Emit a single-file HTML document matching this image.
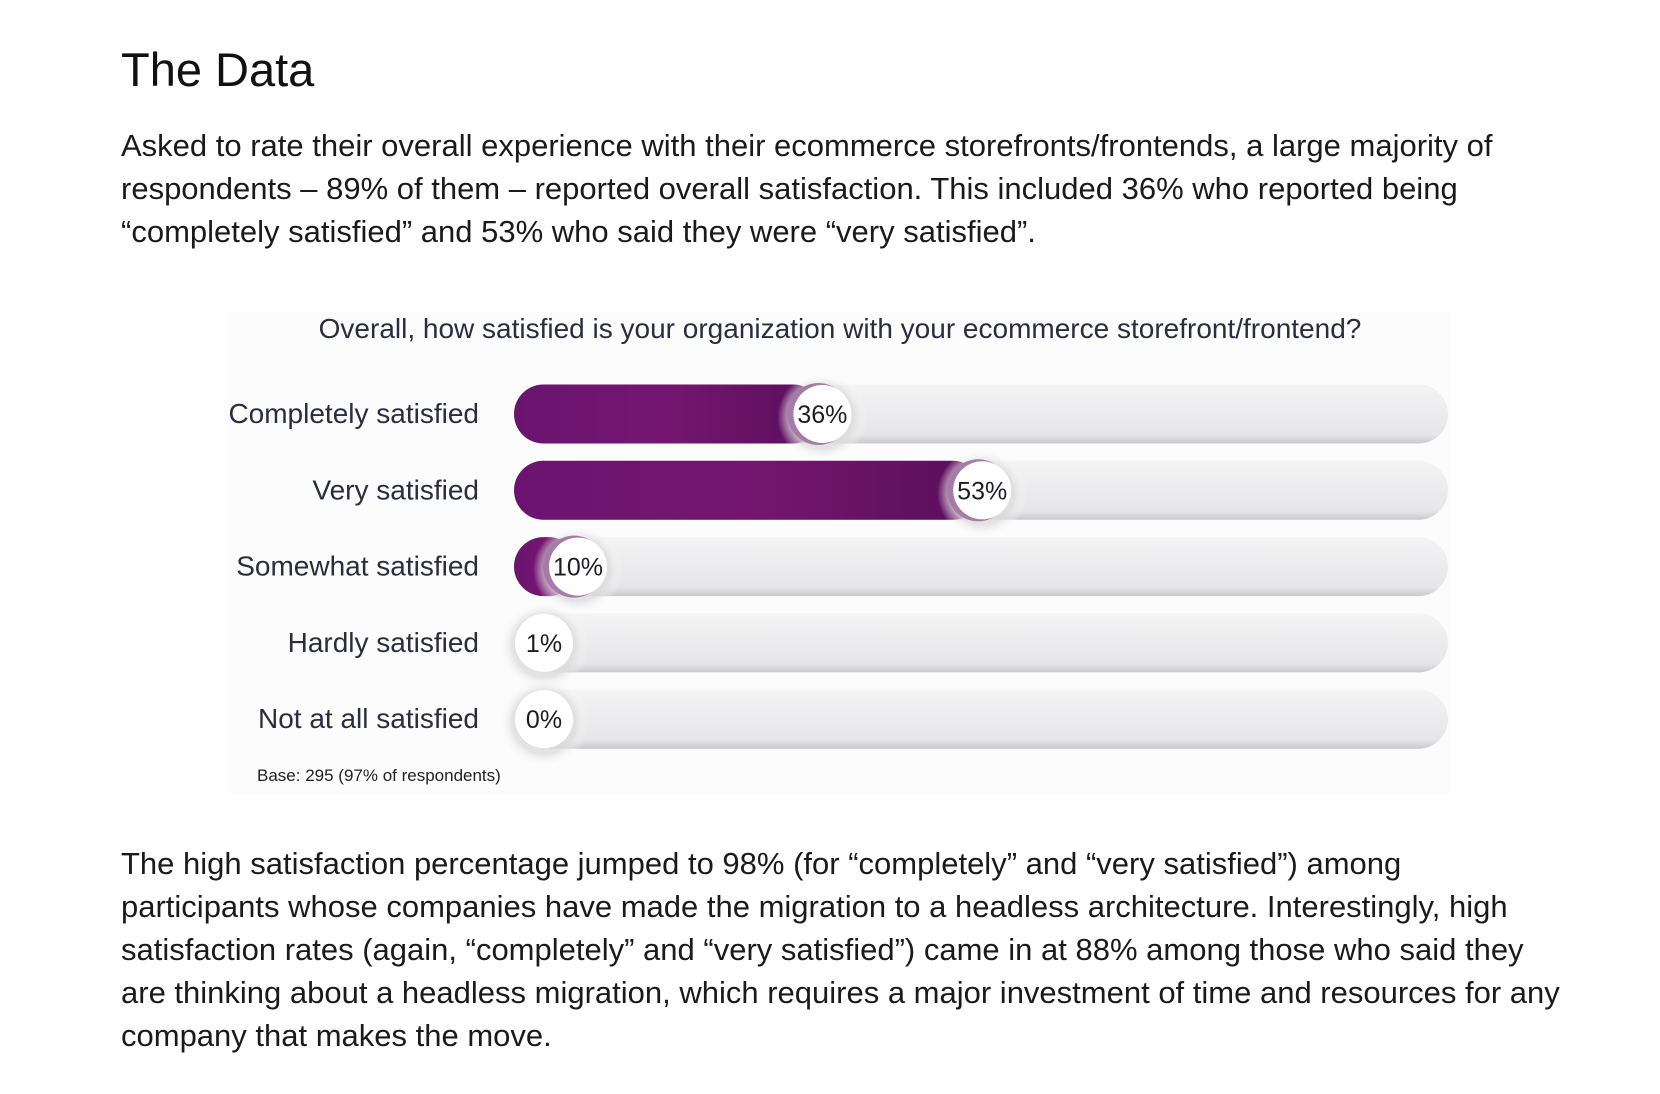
<!DOCTYPE html>
<html><head><meta charset="utf-8">
<style>
body{margin:0;width:1660px;height:1094px;background:#fff;overflow:hidden;font-family:"Liberation Sans",sans-serif;position:relative}
.h{position:absolute;left:121px;top:42px;font-size:47px;color:#111;margin:0;font-weight:normal}
.p{position:absolute;left:121px;width:1530px;font-size:31px;line-height:43px;color:#1a1a1a;margin:0;white-space:nowrap}
</style></head><body>
<h1 class="h">The Data</h1>
<p class="p" style="top:124px">Asked to rate their overall experience with their ecommerce storefronts/frontends, a large majority of<br>respondents – 89% of them – reported overall satisfaction. This included 36% who reported being<br>“completely satisfied” and 53% who said they were “very satisfied”.</p>
<svg style="position:absolute;left:0;top:0" width="1660" height="1094">
<defs>
<linearGradient id="trk" x1="0" y1="0" x2="0" y2="1"><stop offset="0" stop-color="#f4f4f5"/><stop offset="0.85" stop-color="#e6e6e8"/><stop offset="1" stop-color="#c9c9cc"/></linearGradient>
<linearGradient id="pur" x1="0" y1="0" x2="1" y2="0"><stop offset="0" stop-color="#6a1470"/><stop offset="0.5" stop-color="#74166f"/><stop offset="1" stop-color="#5a0f5c"/></linearGradient>
<radialGradient id="halo"><stop offset="0.7" stop-color="#ddd" stop-opacity="0.8"/><stop offset="1" stop-color="#fff" stop-opacity="0"/></radialGradient>
</defs>
<rect x="228" y="312" width="1223" height="482" fill="#fcfcfd"/>
<text x="840" y="338" text-anchor="middle" font-size="28" fill="#2a2d3e">Overall, how satisfied is your organization with your ecommerce storefront/frontend?</text>
<g id="rows"></g>
<text x="257" y="781" font-size="17" fill="#222">Base: 295 (97% of respondents)</text>
</svg>
<p class="p" style="top:842px">The high satisfaction percentage jumped to 98% (for “completely” and “very satisfied”) among<br>participants whose companies have made the migration to a headless architecture. Interestingly, high<br>satisfaction rates (again, “completely” and “very satisfied”) came in at 88% among those who said they<br>are thinking about a headless migration, which requires a major investment of time and resources for any<br>company that makes the move.</p>
<script>
const categories=["Completely satisfied","Very satisfied","Somewhat satisfied","Hardly satisfied","Not at all satisfied"];
const values=[36,53,10,1,0];
const NS="http://www.w3.org/2000/svg";
const g=document.getElementById('rows');
const x0=514,x1=1448,bh=59;
function xPos(v){return Math.max(544,484+9.4*v);}
function yPos(i){return 414+i*76.3;}
function mk(t,a){const e=document.createElementNS(NS,t);for(const k in a)e.setAttribute(k,a[k]);g.appendChild(e);return e;}
categories.forEach((c,i)=>{
const cy=yPos(i),cx=xPos(values[i]);
const tr=mk('rect',{x:x0,y:cy-bh/2,width:x1-x0,height:bh,rx:29.5,fill:'url(#trk)'});


if(values[i]>=5){
const b=mk('rect',{x:x0,y:cy-bh/2,width:cx-x0,height:bh,rx:29.5,fill:'url(#pur)'});


}
mk('circle',{cx:cx,cy:cy+3,r:45,fill:'url(#halo)'});
if(values[i]>=5)mk('circle',{cx:cx-4,cy:cy,r:31,fill:'#a57ca5'});
const w=mk('circle',{cx:cx,cy:cy,r:29,fill:'#fff'});


const vt=mk('text',{x:cx,y:cy+9,'text-anchor':'middle','font-size':25,fill:'#1c1c28'});
vt.textContent=values[i]+'%';


const lt=mk('text',{x:479,y:cy+9,'text-anchor':'end','font-size':28,fill:'#2a2d3e'});
lt.textContent=c;


});
</script>
</body></html>
